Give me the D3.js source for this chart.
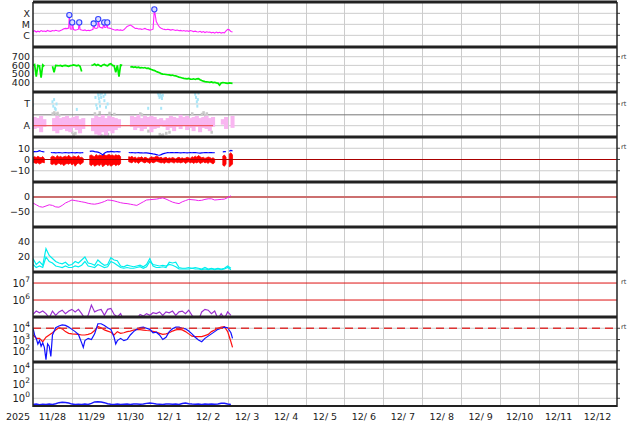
<!DOCTYPE html>
<html><head><meta charset="utf-8">
<script src="https://cdn.jsdelivr.net/npm/d3@7"></script>
<style>body{margin:0;background:#fff}svg{display:block;font-family:"DejaVu Sans",sans-serif}</style>
</head><body><svg id="c" width="634" height="424"></svg>
<script>
// ---------------- DATA (hours counted from 2025-11-28 00:00 UT) ----------------
// X-ray flux, hourly, in units of 1e-6 W/m2 (C-class units)
const xrayFlux = [
 2.2,2.6,2.0,2.4,2.1,2.7,2.3,2.5,2.2,2.8,
 2.4,2.3,2.7,2.5,2.9,2.6,2.4,2.8,3.2,4.0,
 4.3,4.1,4.5,3.8,3.6,3.3,3.0,3.2,3.6,3.4,
 3.0,2.8,3.1,2.6,2.9,2.7,3.0,3.5,4.5,4.2,
 5.0,6.0,5.0,4.5,5.5,5.2,4.8,4.5,4.2,3.6,
 3.2,3.0,3.3,2.9,3.1,2.8,3.2,4.5,6.5,7.5,
 8.5,7.0,5.5,4.2,4.4,3.8,4.0,3.5,3.7,4.2,
 3.5,3.3,3.0,3.2,3.6,150,18,9.0,5.5,4.5,
 3.8,3.5,3.2,3.6,3.3,3.0,3.4,3.1,2.8,3.0,
 2.6,2.8,2.5,2.7,2.4,2.6,2.3,2.7,2.5,2.2,
 2.4,2.1,2.0,2.3,1.9,2.2,1.8,2.1,1.9,2.0,
 1.7,1.9,1.6,2.0,1.7,1.9,1.6,1.8,1.7,2.5,
 3.5,3.2,2.2,2.0];
const flareHours = [22.4,24.2,28.5,37.4,40.2,43.9,45.8,74.8];
const flareFlux  = [70,15,15,12,30,15,15,230];
const xrayTicks = [1,10,100];
const xrayTickLabels = ["C","M","X"];

// Solar wind speed, hourly (km/s)
const windSpeed = [
 600,610,470,600,595,460,605,590,null,null,
 null,null,590,520,600,598,596,600,590,598,
 600,595,590,597,600,605,600,595,603,590,
 530,null,null,null,null,null,600,605,615,600,
 610,598,590,605,610,600,595,612,620,600,
 595,520,600,470,605,600,null,null,null,null,
 580,585,578,582,575,580,572,575,570,575,
 565,568,560,552,545,540,530,522,515,505,
 500,498,495,492,490,485,488,480,478,472,
 465,460,455,450,448,445,450,442,440,445,
 438,445,448,435,425,418,412,410,408,405,
 410,402,405,398,395,372,398,402,400,396,
 392,398,395,392];
const windTicks = [400,500,600,700];

// IMF sector (T = +1, A = -1), 2-hourly ranges of the away-sector points
const pinkTop = [
 -0.2,-0.3,-0.1,-0.4,null,null,-0.3,-0.1,-0.3,-0.2,
 -0.1,-0.3,-0.2,-0.1,-0.4,-0.3,null,null,-0.3,-0.1,
 -0.2,0.0,-0.3,-0.1,-0.2,-0.3,-0.4,null,null,null,
 -0.1,-0.2,0.0,-0.3,-0.1,-0.2,-0.1,-0.2,-0.4,-0.3,
 -0.5,-0.3,-0.1,-0.2,-0.3,0.0,-0.2,-0.1,-0.3,-0.2,
 -0.1,-0.3,-0.2,-0.1,-0.3,-0.2,null,null,-0.4,-0.2,
 null,-0.1];
const pinkBottom = [
 -1.3,-1.2,-1.6,-1.1,null,null,-1.5,-1.7,-1.4,-1.3,
 -1.5,-1.6,-1.2,-1.4,-1.7,-1.3,null,null,-1.5,-1.8,
 -1.9,-1.6,-1.9,-1.5,-1.7,-1.4,-1.2,null,null,null,
 -1.1,-1.4,-1.2,-1.5,-1.3,-1.1,-1.6,-1.3,-1.2,-1.0,
 -1.1,-1.4,-1.2,-1.5,-1.1,-1.3,-1.0,-1.4,-1.2,-1.5,
 -1.1,-1.6,-1.2,-1.3,-1.5,-1.1,null,null,-0.9,-1.3,
 null,-1.2];
const grayPts = [[12,0.1],[13,0.2],[14,0.05],[15,0.15],[16,-0.05],[24,-1.6],[25,-1.8],[26,-1.7],
 [38,0.1],[39,-0.05],[41,0.2],[42,-1.9],[44,-1.95],[46,-1.8],[47,0.15],[50,0.05],[66,0.1],[67,0.0],
 [71,-1.5],[78,-1.8],[79,-1.9],[80,-1.85],[82,-1.7],[84,-1.6],[98,0.1],[104,0.05],[105,0.2],
 [106,-0.05],[107,0.1],[110,-1.6]];
const towardPts = [[0,0.9],[12,1.2],[12.5,0.8],[13,1.4],[13.5,0.6],[14,0.5],[14.5,1.0],[27,0.5],
 [38.5,1.6],[39,0.9],[39.5,0.6],[40,2.0],[40.3,1.8],[40.6,1.5],[41,1.2],[41.3,0.8],[41.6,1.9],
 [42,1.6],[42.5,2.0],[43.5,1.7],[44,1.3],[44.5,1.9],[45,0.7],[46,1.0],[71,0.6],[77,2.0],[77.5,1.8],
 [78,1.6],[78.5,1.9],[79,1.7],[79.5,1.5],[80,1.8],[79,0.6],[100,1.9],[100.5,1.6],[101,1.2],
 [101.3,0.8],[101.6,1.4],[102,2.0]];
const sectorRefEnd = 111;

// IMF Bt and Bz (nT), hourly
const bt = [
 6.8,7.0,6.9,7.2,7.8,7.3,7.0,6.8,null,null,
 null,6.2,6.0,6.1,5.9,6.0,6.2,6.0,5.8,6.0,
 6.1,6.0,5.9,6.0,6.2,6.0,5.9,6.1,6.0,5.9,
 6.0,6.1,null,null,null,7.2,7.5,7.4,7.0,6.8,
 6.5,6.0,5.2,4.0,5.5,6.5,7.0,6.8,7.2,7.0,
 6.8,6.9,7.0,6.8,6.9,null,null,null,null,6.2,
 6.0,6.1,6.0,5.9,6.0,6.1,5.9,6.0,5.8,5.9,
 5.9,5.7,5.5,5.3,5.0,4.8,4.4,4.0,3.8,4.3,
 5.0,5.5,5.8,6.1,6.0,6.2,6.1,6.0,6.2,6.1,
 6.0,5.9,6.0,6.1,6.0,5.9,6.0,6.1,6.0,6.2,
 6.1,6.0,5.8,5.6,5.9,6.0,6.2,6.1,6.0,6.1,
 6.2,6.0,6.1,null,null,null,null,6.8,7.0,6.9,
 null,7.5,8.0,7.6];
const bzLow = [
 -2.5,-3.0,-3.5,-2.8,-4.0,-3.2,-2.5,-3.0,null,null,
 null,-4.0,-4.5,-3.5,-5.0,-4.0,-3.0,-4.5,-3.8,-5.5,
 -4.0,-3.5,-4.2,-3.0,-4.8,-3.5,-6.0,-4.0,-3.0,-4.5,
 -3.5,-2.5,null,null,null,-4.5,-5.5,-4.0,-6.0,-5.0,
 -4.5,-5.5,-3.5,-6.5,-5.0,-4.0,-5.5,-4.5,-6.0,-5.0,
 -4.0,-5.5,-4.5,-5.0,-3.5,null,null,null,null,-2.0,
 -2.5,-3.0,-1.5,-2.8,-2.0,-3.5,-2.0,-1.5,-2.5,-3.0,
 -2.0,-2.5,-3.5,-2.0,-3.0,-2.5,-1.5,-2.0,-2.5,-3.0,
 -2.5,-3.5,-2.0,-2.8,-3.0,-2.0,-2.5,-3.2,-2.0,-2.8,
 -2.2,-3.0,-2.5,-2.0,-3.5,-2.5,-2.0,-3.0,-2.2,-3.5,
 -2.5,-3.0,-2.0,-3.5,-2.8,-2.0,-3.0,-2.5,-3.5,-2.0,
 -3.0,-4.0,-2.5,null,null,null,null,-5.0,-6.0,-4.0,
 null,-6.5,-5.5,-4.0];
const bzHigh = [
 2.0,2.5,1.8,2.8,2.0,1.5,2.6,1.0,null,null,
 null,2.0,3.0,2.5,1.5,3.5,2.0,2.8,1.8,2.5,
 3.0,2.0,3.8,2.2,1.8,3.0,2.5,2.0,3.5,1.5,
 2.0,1.0,null,null,null,3.5,4.0,3.0,2.5,4.5,
 3.0,4.0,3.5,3.8,4.5,3.2,4.0,4.5,3.5,4.0,
 3.0,4.2,3.5,4.0,2.5,null,null,null,null,2.5,
 2.0,2.8,1.5,2.2,1.0,2.0,1.5,2.5,1.0,2.0,
 1.5,0.5,1.5,2.5,1.8,2.0,3.0,2.5,1.5,2.0,
 1.0,1.5,2.0,0.8,1.5,1.0,1.8,1.2,0.5,1.5,
 2.0,1.0,1.5,0.8,1.2,2.0,1.5,1.0,2.5,1.8,
 3.0,2.0,3.5,2.5,1.5,2.0,1.0,1.5,2.2,1.8,
 1.0,1.5,0.5,null,null,null,null,3.0,4.0,2.0,
 null,5.0,6.0,4.0];
const bTicks = [-10,0,10];

// Dst index (nT), 2-hourly
const dst = [
 -20,-26,-32,-34,-30,-26,-28,-33,-34,-28,
 -20,-15,-10,-12,-14,-16,-18,-21,-23,-24,
 -22,-19,-15,-10,-11,-13,-16,-19,-21,-22,
 -24,-26,-28,-22,-16,-10,-9,-8,-7,-5,
 -3,-7,-12,-17,-20,-22,-16,-12,-8,-9,
 -10,-12,-11,-8,-6,-6,-10,-9,-8,-7,
 -2,4];
const dstTicks = [-50,0];

// Two cyan series, 2-hourly
const cyanA = [
 18,10,14,9,31,22,18,14,12,11,
 13,9,10,14,12,16,20,12,11,9,
 16,12,9,10,19,16,15,8,7,9,
 8,7,8,9,7,10,18,8,6,6,
 7,6,13,12,13,6,5,5,6,5,
 6,5,4,6,4,5,4,5,4,5,
 8,5];
const cyanB = [
 10,6,8,6,20,14,12,8,7,6,
 8,6,6,8,7,9,14,8,7,6,
 10,8,6,7,14,12,9,6,5,6,
 5,5,6,7,5,7,14,10,9,8,
 9,8,10,9,7,4,4,4,4,5,
 4,4,3,4,3,4,3,4,3,4,
 6,3];
const cyanTicks = [20,40];

// Purple series, log10 values, 2-hourly
const purpleLog = [
 5.15,5.35,5.25,5.35,5.2,4.95,5.35,5.1,5.3,5.4,
 5.2,5.35,5.45,5.3,5.45,5.2,4.9,5.1,5.7,5.3,
 5.4,5.45,5.1,5.45,5.5,5.15,5.0,5.2,4.8,4.9,
 4.7,4.8,4.9,5.15,5.05,5.2,5.1,5.25,5.2,5.3,
 5.1,5.3,5.25,5.35,5.1,5.3,5.35,5.2,5.4,5.1,
 4.9,4.8,5.3,5.45,5.4,5.2,5.35,4.9,5.2,4.9,
 5.3,5.1];
const p7Refs = [6,7];

// Panel 8: blue and red series, [hour, log10 value]
const p8Blue = [[0,4.0],[1,3.4],[2,3.1],[3,2.6],[4,2.9],[5,2.4],[6,2.7],[7,2.3],[8,1.2],[9,2.6],[10,2.4],
 [11,1.5],[12,3.4],[14,4.05],[16,4.2],[18,4.3],[20,4.25],[22,4.1],[24,3.9],[26,3.7],[28,3.45],[30,2.7],
 [31,2.3],[32,2.9],[34,3.1],[36,3.0],[38,3.5],[40,4.4],[42,4.4],[44,4.25],[46,4.05],[48,3.9],[50,3.2],
 [51,2.6],[52,2.9],[54,3.1],[56,2.9],[58,3.0],[60,3.4],[62,3.7],[64,3.9],[66,4.05],[68,4.1],[70,4.0],
 [72,3.9],[74,3.6],[76,3.65],[78,3.4],[80,3.0],[82,3.2],[84,3.7],[86,3.95],[88,4.1],[90,4.1],[92,4.0],
 [94,3.95],[96,3.75],[98,3.5],[100,3.2],[102,2.95],[104,2.8],[106,3.1],[108,3.3],[110,3.5],[112,3.7],
 [114,3.9],[116,4.0],[118,4.1],[120,4.05],[122,3.6],[123,3.1]];
const p8Red = [[0,3.4],[2,3.1],[4,3.1],[6,2.8],[8,3.2],[10,3.4],[12,3.6],[14,3.85],[16,4.05],[18,3.95],
 [20,3.7],[22,3.55],[24,3.5],[26,3.48],[28,3.45],[30,3.4],[32,3.4],[34,3.45],[36,3.55],[38,3.8],[40,4.15],
 [42,4.05],[44,3.85],[46,3.75],[48,3.65],[50,3.4],[52,3.7],[54,3.55],[56,3.6],[58,3.7],[60,3.75],[62,3.84],
 [64,3.9],[66,3.88],[68,3.84],[70,3.8],[72,3.78],[74,3.72],[76,3.65],[78,3.55],[80,3.45],[82,3.5],[84,3.6],
 [86,3.75],[88,3.85],[90,3.9],[92,3.85],[94,3.7],[96,3.5],[98,3.3],[100,3.25],[102,3.25],[104,3.25],
 [106,3.35],[108,3.45],[110,3.7],[112,3.84],[114,4.0],[116,4.1],[118,4.15],[120,3.7],[122,2.8],[123,2.3]];
const p8Ticks = [2,3,4];
const p8Ref = 4;

// Panel 9 blue series, log10 values, 2-hourly
const p9Log = [
 -0.85,-0.8,-0.88,-0.82,-0.86,-0.8,-0.84,-0.75,-0.6,-0.55,
 -0.58,-0.65,-0.8,-0.85,-0.82,-0.86,-0.8,-0.84,-0.7,-0.5,
 -0.47,-0.5,-0.6,-0.75,-0.82,-0.85,-0.8,-0.86,-0.82,-0.8,
 -0.84,-0.78,-0.8,-0.82,-0.78,-0.7,-0.65,-0.7,-0.8,-0.82,
 -0.85,-0.8,-0.78,-0.82,-0.8,-0.84,-0.72,-0.65,-0.75,-0.8,
 -0.83,-0.8,-0.84,-0.8,-0.82,-0.8,-0.82,-0.78,-0.68,-0.7,
 -0.8,-0.84];
const p9Ticks = [0,2,4];

const yearLabel = "2025";
const rtPanels = [1,2,3,6,7];

// ---------------- DRAWING ----------------
const T0 = Date.UTC(2025,10,28);
const T1 = Date.UTC(2025,11,13);
const hr = h => new Date(T0 + h*3600e3);
const L = 33, R = 617, TOP = 2, PH = 45;
const x = d3.scaleUtc().domain([new Date(T0), new Date(T1)]).range([L, R]);
const svg = d3.select("#c");
const ptop = i => TOP + PH*i;
const GRID = "#cccccc";
const FS = 9.5;

// vertical day grid
const days = d3.utcDay.range(new Date(T0), new Date(T1));
const gridX = days.slice(1).map(d => Math.round(x(d)) + 0.5);
const vg = svg.append("g").attr("class","vgrid");
gridX.forEach(px => {
  vg.append("line").attr("x1",px).attr("x2",px).attr("y1",TOP).attr("y2",ptop(9))
    .attr("stroke",GRID).attr("stroke-width",1);
});

// clip paths
const defs = svg.append("defs");
for (let i=0;i<9;i++){
  defs.append("clipPath").attr("id","cp"+i).append("rect")
    .attr("x",L).attr("y",ptop(i)).attr("width",R-L).attr("height",PH);
}
const layer = i => svg.append("g").attr("clip-path",`url(#cp${i})`);

function hgrid(y, vals, color=GRID, w=1){
  svg.append("g").selectAll("line").data(vals).join("line")
    .attr("x1",L).attr("x2",R).attr("y1",d=>y(d)).attr("y2",d=>y(d))
    .attr("stroke",color).attr("stroke-width",w);
  svg.append("g").selectAll("line").data(vals).join("line")
    .attr("x1",R).attr("x2",R+3).attr("y1",d=>y(d)).attr("y2",d=>y(d))
    .attr("stroke","#444").attr("stroke-width",1);
}
function ylab(y, vals, labels){
  svg.append("g").selectAll("text").data(vals).join("text")
    .attr("x",30).attr("y",d=>y(d)).attr("dy","0.36em").attr("text-anchor","end")
    .attr("font-size",FS).attr("fill","#222")
    .text((d,i)=>labels ? labels[i] : String(d).replace("-","\u2212"));
}
function ylabPow(y, exps){
  const g = svg.append("g").selectAll("text").data(exps).join("text")
    .attr("x",30).attr("y",d=>y(Math.pow(10,d))+4).attr("text-anchor","end")
    .attr("font-size",FS+0.5).attr("fill","#222");
  g.append("tspan").text("10");
  g.append("tspan").attr("dy",-5).attr("font-size",7.5).text(d=>d);
}

// Panel 0: X-ray
{
  const y = d3.scaleLog().domain([0.087,1070]).range([ptop(1),ptop(0)]);
  hgrid(y, xrayTicks);
  ylab(y, xrayTicks, xrayTickLabels);
  const pts = xrayFlux.map((v,i)=>[i,v]).concat(flareHours.map((h,i)=>[h,flareFlux[i]])).sort((a,b)=>a[0]-b[0]);
  layer(0).append("path").datum(pts).attr("fill","none").attr("stroke","#ff22ff").attr("stroke-width",1.1)
    .attr("d", d3.line().x(d=>x(hr(d[0]))).y(d=>y(d[1])));
  svg.append("g").selectAll("circle").data(flareHours).join("circle")
    .attr("cx",d=>x(hr(d))).attr("cy",(d,i)=>y(flareFlux[i])).attr("r",2.6)
    .attr("fill","#dcdcff").attr("stroke","#3040ff").attr("stroke-width",1.1);
}
// Panel 1: wind speed
{
  const y = d3.scaleLinear().domain([293,812]).range([ptop(2),ptop(1)]);
  hgrid(y, windTicks);
  ylab(y, windTicks);
  layer(1).append("path").datum(windSpeed).attr("fill","none").attr("stroke","#00ee00").attr("stroke-width",1.7)
    .attr("d", d3.line().defined(d=>d!=null).x((d,i)=>x(hr(i))).y(d=>y(d)));
}
// Panel 2: sector
{
  const y = d3.scaleLinear().domain([-2.04,2.1]).range([ptop(3),ptop(2)]);
  hgrid(y, [1,-1]);
  svg.append("line").attr("x1",L).attr("x2",R).attr("y1",y(0)).attr("y2",y(0)).attr("stroke","#777").attr("stroke-width",1);
  ylab(y, [1,-1], ["T","A"]);
  const g = layer(2);
  g.selectAll("rect.gr").data(grayPts).join("rect").attr("class","gr")
    .attr("x",d=>x(hr(d[0]))-1).attr("y",d=>y(d[1])-1.5).attr("width",2.5).attr("height",3).attr("fill","#c8c8c8");
  const idx = d3.range(pinkTop.length).filter(i=>pinkTop[i]!=null);
  g.selectAll("rect.pk").data(idx).join("rect").attr("class","pk")
    .attr("x",i=>x(hr(2*i))-0.4).attr("width",i=>x(hr(2*i+2))-x(hr(2*i))+0.8)
    .attr("y",i=>y(pinkTop[i])).attr("height",i=>y(pinkBottom[i])-y(pinkTop[i]))
    .attr("fill","#f9b6f1");
  g.selectAll("rect.tw").data(towardPts).join("rect").attr("class","tw")
    .attr("x",d=>x(hr(d[0]))-1).attr("y",d=>y(d[1])-1.5).attr("width",2).attr("height",3).attr("fill","#a8e6f8");
  g.append("line").attr("x1",L).attr("x2",x(hr(sectorRefEnd))).attr("y1",y(-1)).attr("y2",y(-1))
    .attr("stroke","#ee4444").attr("stroke-width",1);
}
// Panel 3: B
{
  const y = d3.scaleLinear().domain([-20,20]).range([ptop(4),ptop(3)]);
  hgrid(y, bTicks);
  ylab(y, bTicks);
  const g = layer(3);
  const idx = d3.range(bzLow.length);
  g.append("path").datum(idx).attr("fill","#ff0000").attr("stroke","#ff0000").attr("stroke-width",0.8)
    .attr("d", d3.area().defined(i=>bzLow[i]!=null).x(i=>x(hr(i))).y0(i=>y(bzLow[i])).y1(i=>y(bzHigh[i])));
  g.append("path").datum(bt).attr("fill","none").attr("stroke","#0000ff").attr("stroke-width",1.2)
    .attr("d", d3.line().defined(d=>d!=null).x((d,i)=>x(hr(i))).y(d=>y(d)));
  svg.append("line").attr("x1",L).attr("x2",R).attr("y1",y(0)).attr("y2",y(0)).attr("stroke","#aa0000").attr("stroke-width",1.2);
}
// Panel 4: Dst
{
  const y = d3.scaleLinear().domain([-100,50]).range([ptop(5),ptop(4)]);
  hgrid(y, [-50]);
  svg.append("line").attr("x1",L).attr("x2",R).attr("y1",y(0)).attr("y2",y(0)).attr("stroke","#cc6f6f").attr("stroke-width",2.2);
  ylab(y, dstTicks);
  layer(4).append("path").datum(dst).attr("fill","none").attr("stroke","#ee22ee").attr("stroke-width",1)
    .attr("d", d3.line().x((d,i)=>x(hr(2*i))).y(d=>y(d)));
}
// Panel 5: cyan
{
  const y = d3.scaleLinear().domain([0,60]).range([ptop(6),ptop(5)]);
  hgrid(y, cyanTicks);
  ylab(y, cyanTicks);
  const g = layer(5);
  [cyanB, cyanA].forEach(s=>{
    g.append("path").datum(s).attr("fill","none").attr("stroke","#00eeee").attr("stroke-width",1.2)
      .attr("d", d3.line().x((d,i)=>x(hr(2*i))).y(d=>y(d)));
  });
}
// Panel 6: purple
{
  const y = d3.scaleLog().domain([1e5,Math.pow(10,7.65)]).range([ptop(7),ptop(6)]);
  svg.append("g").selectAll("line").data(p7Refs).join("line")
    .attr("x1",L).attr("x2",R).attr("y1",d=>y(Math.pow(10,d))).attr("y2",d=>y(Math.pow(10,d)))
    .attr("stroke","#dd1111").attr("stroke-width",1);
  ylabPow(y, [7,6]);
  layer(6).append("path").datum(purpleLog).attr("fill","none").attr("stroke","#9b30d0").attr("stroke-width",1.2)
    .attr("d", d3.line().x((d,i)=>x(hr(2*i))).y(d=>y(Math.pow(10,d))));
}
// Panel 7
{
  const y = d3.scaleLog().domain([10,1e5]).range([ptop(8),ptop(7)]);
  hgrid(y, p8Ticks.map(d=>Math.pow(10,d)));
  ylabPow(y, [4,3,2]);
  const g = layer(7);
  g.append("path").datum(p8Red).attr("fill","none").attr("stroke","#ff1111").attr("stroke-width",1.2)
    .attr("d", d3.line().x(d=>x(hr(d[0]))).y(d=>y(Math.pow(10,d[1]))));
  g.append("path").datum(p8Blue).attr("fill","none").attr("stroke","#1111ff").attr("stroke-width",1.2)
    .attr("d", d3.line().x(d=>x(hr(d[0]))).y(d=>y(Math.pow(10,d[1]))));
  svg.append("line").attr("x1",L).attr("x2",R).attr("y1",y(Math.pow(10,p8Ref))).attr("y2",y(Math.pow(10,p8Ref)))
    .attr("stroke","#dd3333").attr("stroke-width",1.4).attr("stroke-dasharray","8,5");
}
// Panel 8
{
  const y = d3.scaleLog().domain([Math.pow(10,-1.2),1e5]).range([ptop(9),ptop(8)]);
  hgrid(y, p9Ticks.map(d=>Math.pow(10,d)));
  ylabPow(y, [4,2,0]);
  layer(8).append("path").datum(p9Log).attr("fill","none").attr("stroke","#1a1aff").attr("stroke-width",1.5)
    .attr("d", d3.line().x((d,i)=>x(hr(2*i))).y(d=>y(Math.pow(10,d))));
}

// panel separators and frame
svg.append("g").selectAll("line").data(d3.range(0,9)).join("line")
  .attr("x1",L).attr("x2",R).attr("y1",d=>ptop(d)).attr("y2",d=>ptop(d))
  .attr("stroke","#222").attr("stroke-width",3);
svg.append("line").attr("x1",L).attr("x2",R).attr("y1",ptop(9)-1).attr("y2",ptop(9)-1).attr("stroke","#222").attr("stroke-width",2);
svg.append("line").attr("x1",L).attr("x2",L).attr("y1",TOP).attr("y2",ptop(9)).attr("stroke","#222").attr("stroke-width",1.5);
svg.append("line").attr("x1",R).attr("x2",R).attr("y1",TOP).attr("y2",ptop(9)).attr("stroke","#222").attr("stroke-width",1.5);

// "rt" marks
const rtY = [ptop(1)+10, ptop(2)+12, ptop(3)+10, ptop(6)+10, ptop(7)+10];
svg.append("g").selectAll("text").data(rtPanels).join("text")
  .attr("x",621).attr("y",(d,i)=>rtY[i]).attr("dy","0.35em").attr("font-size",6.5).attr("fill","#333").text("rt");

// x-axis labels
const fmt = d3.utcFormat("%-m/%e");
svg.append("g").selectAll("text").data(days).join("text")
  .attr("x",d=>x(d3.utcHour.offset(d,12))).attr("y",420).attr("text-anchor","middle")
  .attr("font-size",FS).attr("fill","#222").attr("xml:space","preserve").style("white-space","pre")
  .text(d=>fmt(d));
svg.append("text").attr("x",18).attr("y",420).attr("text-anchor","middle").attr("font-size",FS).attr("fill","#222").text(yearLabel);
</script></body></html>
